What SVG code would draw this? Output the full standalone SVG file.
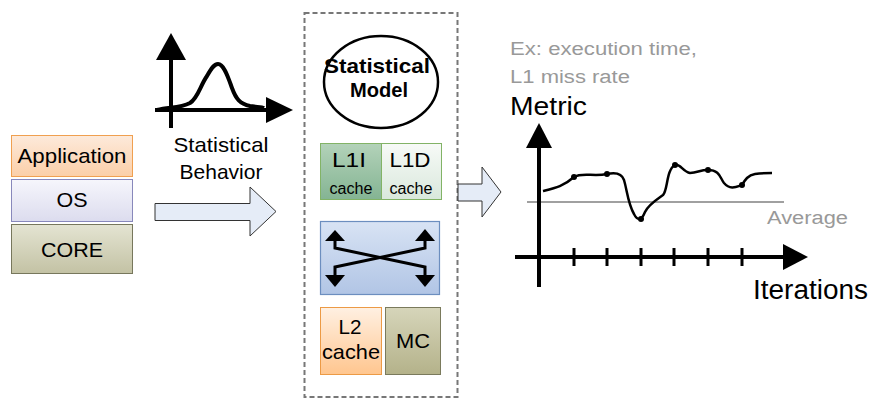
<svg xmlns="http://www.w3.org/2000/svg" width="876" height="399" viewBox="0 0 876 399">
  <defs>
    <linearGradient id="gApp" x1="0" y1="0" x2="0" y2="1">
      <stop offset="0" stop-color="#fdeadb"/>
      <stop offset="1" stop-color="#fbcfa8"/>
    </linearGradient>
    <linearGradient id="gOS" x1="0" y1="0" x2="0" y2="1">
      <stop offset="0" stop-color="#f6f6fc"/>
      <stop offset="1" stop-color="#dcdcee"/>
    </linearGradient>
    <linearGradient id="gCore" x1="0" y1="0" x2="0" y2="1">
      <stop offset="0" stop-color="#e4e4d2"/>
      <stop offset="1" stop-color="#c3c2a4"/>
    </linearGradient>
    <linearGradient id="gL1I" x1="0" y1="0" x2="0" y2="1">
      <stop offset="0" stop-color="#b3d2b9"/>
      <stop offset="1" stop-color="#84b493"/>
    </linearGradient>
    <linearGradient id="gL1D" x1="0" y1="0" x2="0" y2="1">
      <stop offset="0" stop-color="#f7faf7"/>
      <stop offset="1" stop-color="#d9e8dc"/>
    </linearGradient>
    <linearGradient id="gBus" x1="0" y1="0" x2="0" y2="1">
      <stop offset="0" stop-color="#d8e3f4"/>
      <stop offset="1" stop-color="#b1c5e5"/>
    </linearGradient>
    <linearGradient id="gL2" x1="0" y1="0" x2="0" y2="1">
      <stop offset="0" stop-color="#fff0e2"/>
      <stop offset="1" stop-color="#ffc68f"/>
    </linearGradient>
    <linearGradient id="gMC" x1="0" y1="0" x2="0" y2="1">
      <stop offset="0" stop-color="#d6d5ba"/>
      <stop offset="1" stop-color="#b4b28a"/>
    </linearGradient>
  </defs>
  <style>
    text { font-family: "Liberation Sans", Arial, sans-serif; fill: #000; }
    .lbl { font-size: 21px; text-anchor: middle; }
    .sm { font-size: 16px; text-anchor: middle; }
    .gray { fill: #999999; }
    .axis { stroke: #000; stroke-width: 4; fill: none; }
    .wire { stroke: #000; stroke-width: 3; fill: none; }
    .head { fill: #000; stroke: none; }
    .hollow { fill: #e5ecf7; stroke: #333; stroke-width: 1; }
    .dot { fill: #000; }
  </style>

  <rect width="876" height="399" fill="#ffffff"/>

  <!-- software stack -->
  <g id="app">
    <rect x="11.5" y="135.5" width="121" height="41" fill="url(#gApp)" stroke="#f0a050" stroke-width="1"/>
    <text class="lbl" x="72" y="163" font-size="22" textLength="109" lengthAdjust="spacingAndGlyphs">Application</text>
  </g>
  <g id="os">
    <rect x="11.5" y="179.5" width="121" height="42" fill="url(#gOS)" stroke="#8888bb" stroke-width="1"/>
    <text class="lbl" x="72" y="207" textLength="31" lengthAdjust="spacingAndGlyphs">OS</text>
  </g>
  <g id="core">
    <rect x="11.5" y="224.5" width="121" height="49" fill="url(#gCore)" stroke="#77775c" stroke-width="1"/>
    <text class="lbl" x="72" y="257" textLength="62" lengthAdjust="spacingAndGlyphs">CORE</text>
  </g>

  <!-- statistical behaviour sketch -->
  <g id="behavior">
    <line class="axis" x1="171" y1="128" x2="171" y2="55"/>
    <polygon class="head" points="171,33 156,60 186,60"/>
    <line class="axis" x1="155" y1="110" x2="270" y2="110"/>
    <polygon class="head" points="293,110 266,97 266,123"/>
    <path class="axis" stroke-width="3.5" d="M157,110 C170,107 180,108 190,103 C198,98 200,86 207,76 C211,69 214,64 218,64 C224,64 228,77 232,88 C236,99 240,104 250,106 C256,107 262,107 264,108"/>
    <text class="lbl" x="221" y="152" textLength="95" lengthAdjust="spacingAndGlyphs">Statistical</text>
    <text class="lbl" x="221" y="179" textLength="83" lengthAdjust="spacingAndGlyphs">Behavior</text>
  </g>

  <!-- hardware model -->
  <g id="model">
    <rect x="304.5" y="13" width="153" height="384" fill="none" stroke="#777" stroke-width="2" stroke-dasharray="5,3"/>
    <ellipse cx="381" cy="82" rx="57" ry="46" fill="#fff" stroke="#000" stroke-width="2.5"/>
    <text class="lbl" x="377" y="73" font-size="22" font-weight="bold" textLength="106" lengthAdjust="spacingAndGlyphs">Statistical</text>
    <text class="lbl" x="379" y="97" font-size="22" font-weight="bold" textLength="58" lengthAdjust="spacingAndGlyphs">Model</text>
  </g>
  <g id="l1i">
    <rect x="320.5" y="143.5" width="61" height="56" fill="url(#gL1I)" stroke="#82b366" stroke-width="1"/>
    <text class="lbl" x="349" y="167" font-size="20" textLength="34" lengthAdjust="spacingAndGlyphs">L1I</text>
    <text class="sm" x="351" y="194" textLength="43" lengthAdjust="spacingAndGlyphs">cache</text>
  </g>
  <g id="l1d">
    <rect x="381.5" y="143.5" width="60" height="56" fill="url(#gL1D)" stroke="#82b366" stroke-width="1"/>
    <text class="lbl" x="410" y="167" font-size="20" textLength="41" lengthAdjust="spacingAndGlyphs">L1D</text>
    <text class="sm" x="411" y="194" textLength="43" lengthAdjust="spacingAndGlyphs">cache</text>
  </g>
  <g id="interconnect">
    <rect x="320.5" y="221.5" width="119" height="73" fill="url(#gBus)" stroke="#6c8ebf" stroke-width="1.2"/>
    <path class="wire" d="M335,238 V248 L425,267 V277"/>
    <path class="wire" d="M425,238 V248 L335,267 V277"/>
    <polygon class="head" points="335,230 325,241 345,241"/>
    <polygon class="head" points="425,229 415,241 435,241"/>
    <polygon class="head" points="335,287 325,275 345,275"/>
    <polygon class="head" points="425,287 415,275 435,275"/>
  </g>
  <g id="l2">
    <rect x="320.5" y="307.5" width="61" height="67" fill="url(#gL2)" stroke="#ec9a45" stroke-width="1"/>
    <text class="lbl" x="350" y="334" textLength="23" lengthAdjust="spacingAndGlyphs">L2</text>
    <text class="lbl" x="351" y="359" textLength="58" lengthAdjust="spacingAndGlyphs">cache</text>
  </g>
  <g id="mc">
    <rect x="385.5" y="307.5" width="55" height="67" fill="url(#gMC)" stroke="#7a7a5c" stroke-width="1"/>
    <text class="lbl" x="413" y="348" textLength="34" lengthAdjust="spacingAndGlyphs">MC</text>
  </g>

  <!-- metric plot -->
  <g id="plot">
    <text class="gray" x="510" y="55" font-size="18" textLength="187" lengthAdjust="spacingAndGlyphs">Ex: execution time,</text>
    <text class="gray" x="510" y="83" font-size="18" textLength="120" lengthAdjust="spacingAndGlyphs">L1 miss rate</text>
    <text x="510" y="115" font-size="26" textLength="77" lengthAdjust="spacingAndGlyphs">Metric</text>
    <line x1="527" y1="202" x2="784" y2="202" stroke="#a0a0a0" stroke-width="2"/>
    <text class="gray" x="767" y="224" font-size="18" textLength="81" lengthAdjust="spacingAndGlyphs">Average</text>
    <line class="axis" x1="539" y1="287" x2="539" y2="145"/>
    <polygon class="head" points="539,123 526,148 552,148"/>
    <line class="axis" x1="515" y1="257" x2="786" y2="257"/>
    <polygon class="head" points="808,257 783,244 783,270"/>
    <g stroke="#000" stroke-width="3">
      <line x1="574" y1="248" x2="574" y2="266"/>
      <line x1="607" y1="248" x2="607" y2="266"/>
      <line x1="641" y1="248" x2="641" y2="266"/>
      <line x1="674" y1="248" x2="674" y2="266"/>
      <line x1="708" y1="248" x2="708" y2="266"/>
      <line x1="742" y1="248" x2="742" y2="266"/>
    </g>
    <text x="753" y="299" font-size="27" textLength="115" lengthAdjust="spacingAndGlyphs">Iterations</text>
    <path fill="none" stroke="#000" stroke-width="2.5" d="M543,191 C555,188 564,186 574,177 C582,172 594,177 607,174 C616,172 622,174 624,180 C627,190 628,204 634,214 C637,220 641,222 645,212 C648,205 656,200 663,195 C668,190 666,170 675,165 C680,163 683,172 690,173 C697,173 703,169 708,170 C720,170 720,178 724,183 C730,190 736,187 742,185 C745,180 748,175 755,174 C762,173 768,173 772,173"/>
    <circle class="dot" cx="574" cy="177" r="3"/>
    <circle class="dot" cx="607" cy="174" r="3"/>
    <circle class="dot" cx="641" cy="219" r="3"/>
    <circle class="dot" cx="675" cy="165" r="3"/>
    <circle class="dot" cx="708" cy="170" r="3"/>
    <circle class="dot" cx="742" cy="185" r="3"/>
  </g>

  <!-- block arrows -->
  <g id="connectors">
    <polygon class="hollow" points="155,203.5 250,203.5 250,187 276,211.5 250,236 250,220.5 155,220.5"/>
    <polygon class="hollow" points="458,184 482,184 482,167 501,192 482,217 482,201 458,201"/>
  </g>
</svg>
